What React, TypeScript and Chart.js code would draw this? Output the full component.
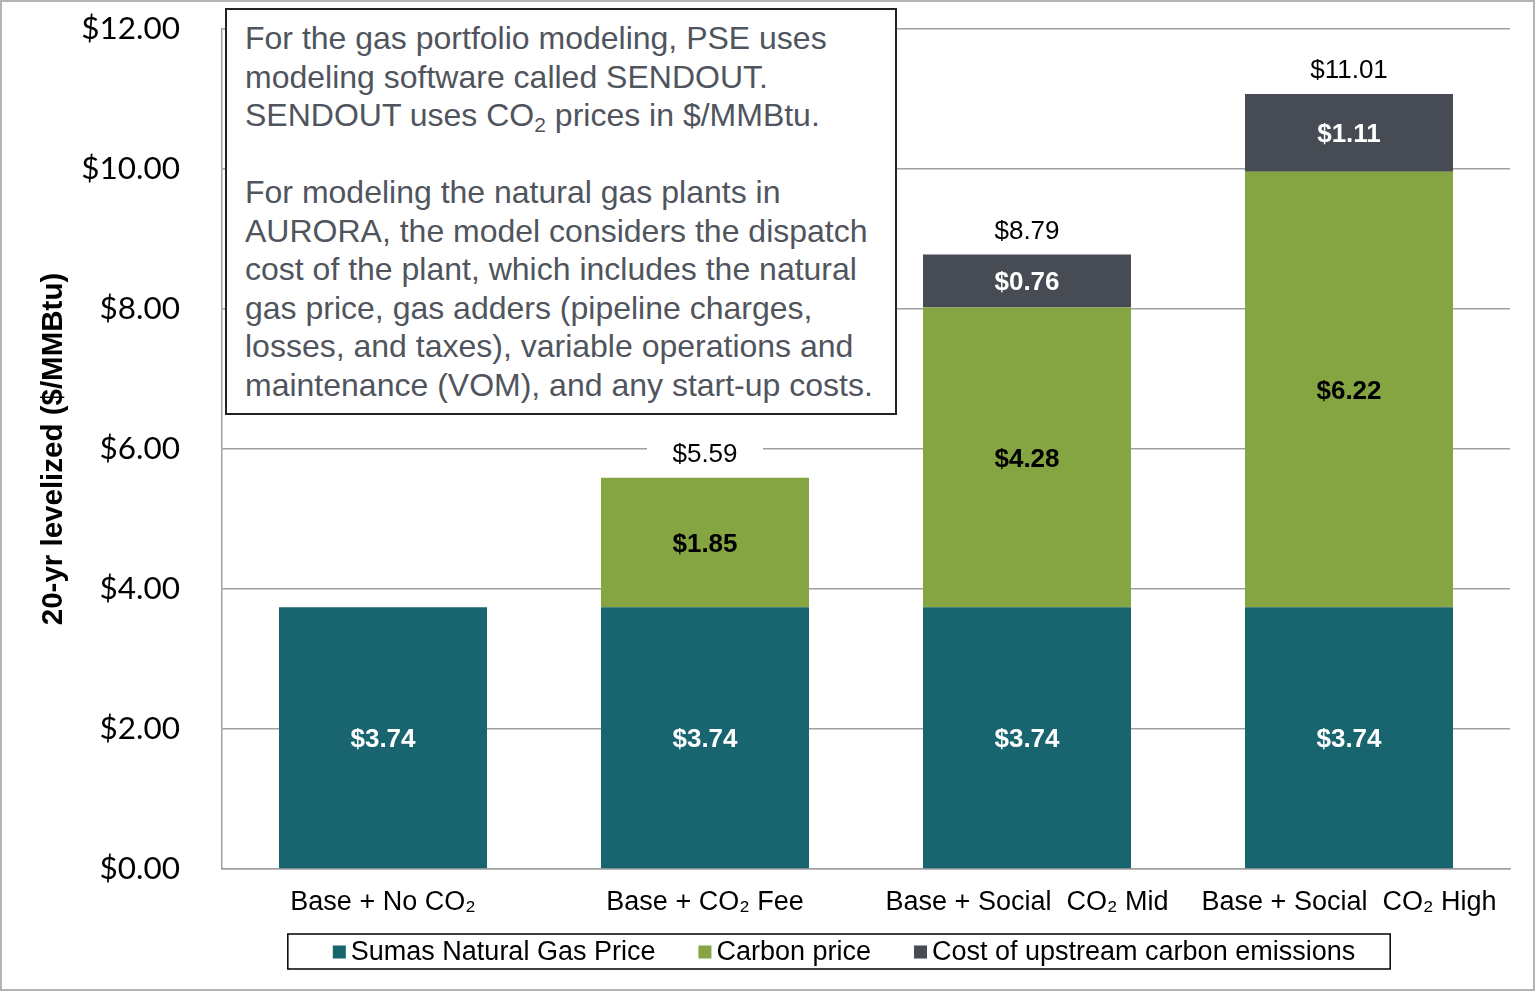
import React, { useEffect, useRef } from 'react';
import { Chart, registerables } from 'chart.js';

Chart.register(...registerables);

const categories = ['Base + No CO\u2082', 'Base + CO\u2082 Fee', 'Base + Social  CO\u2082 Mid', 'Base + Social  CO\u2082 High'];
const seriesNames = ['Sumas Natural Gas Price', 'Carbon price', 'Cost of upstream carbon emissions'];
const gasPrice = [3.74, 3.74, 3.74, 3.74];
const carbonPrice = [null, 1.85, 4.28, 6.22];
const upstreamCost = [null, null, 0.76, 1.11];
const totals = [null, 5.59, 8.79, 11.01];
const yTicks = [0, 2, 4, 6, 8, 10, 12];
const seriesColors = ['#18656F', '#84A541', '#474B54'];
const labelColors = ['#FFFFFF', '#000000', '#FFFFFF'];
const yTitle = '20-yr levelized ($/MMBtu)';

const ARIAL = '"Liberation Sans", Arial, sans-serif';

const segmentLabels = {
  id: 'segmentLabels',
  afterDatasetsDraw(chart: any) {
    const ctx = chart.ctx;
    ctx.save();
    ctx.font = `bold 26px ${ARIAL}`;
    ctx.textAlign = 'center';
    ctx.textBaseline = 'middle';
    chart.data.datasets.forEach((ds: any, di: number) => {
      const meta = chart.getDatasetMeta(di);
      meta.data.forEach((el: any, i: number) => {
        const v = ds.data[i];
        if (v == null) return;
        ctx.fillStyle = labelColors[di];
        ctx.fillText('$' + v.toFixed(2), el.x, (el.y + el.base) / 2 + 2);
      });
    });
    ctx.restore();
  },
};

const totalLabels = {
  id: 'totalLabels',
  afterDatasetsDraw(chart: any) {
    const ctx = chart.ctx;
    ctx.save();
    ctx.font = `26px ${ARIAL}`;
    ctx.textAlign = 'center';
    ctx.textBaseline = 'middle';
    totals.forEach((t, i) => {
      if (t == null) return;
      let top = Infinity;
      let x = 0;
      chart.data.datasets.forEach((ds: any, di: number) => {
        if (ds.data[i] == null) return;
        const el = chart.getDatasetMeta(di).data[i];
        if (el.y < top) top = el.y;
        x = el.x;
      });
      const y = top - 23;
      ctx.fillStyle = '#FFFFFF';
      ctx.fillRect(x - 58, y - 16, 116, 32);
      ctx.fillStyle = '#000000';
      ctx.fillText('$' + t.toFixed(2), x, y);
    });
    ctx.restore();
  },
};

const boxedLegend = {
  id: 'boxedLegend',
  afterDraw(chart: any) {
    const ctx = chart.ctx;
    ctx.save();
    ctx.font = `27px ${ARIAL}`;
    ctx.textBaseline = 'middle';
    ctx.textAlign = 'left';
    const sq = 13;
    const gapText = 5;
    const gapItem = 43;
    const widths = seriesNames.map((n) => ctx.measureText(n).width);
    const total = widths.reduce((a, w) => a + sq + gapText + w, 0) + gapItem * (seriesNames.length - 1);
    const cx = 844;
    const cy = 952;
    let x = cx - total / 2;
    const boxL = x - 45;
    const boxR = x + total + 35;
    ctx.fillStyle = '#FFFFFF';
    ctx.fillRect(boxL, 934, boxR - boxL, 35);
    ctx.strokeStyle = '#000000';
    ctx.lineWidth = 1.5;
    ctx.strokeRect(boxL, 934, boxR - boxL, 35);
    seriesNames.forEach((n, i) => {
      ctx.fillStyle = seriesColors[i];
      ctx.fillRect(x, cy - sq / 2, sq, sq);
      x += sq + gapText;
      ctx.fillStyle = '#000000';
      ctx.fillText(n, x, cy + 1);
      x += widths[i] + gapItem;
    });
    // outer frame
    ctx.strokeStyle = '#B4B4B4';
    ctx.lineWidth = 2;
    ctx.strokeRect(1, 1, chart.width - 2, chart.height - 2);
    ctx.restore();
  },
};

export default function App() {
  const canvasRef = useRef<HTMLCanvasElement>(null);

  useEffect(() => {
    const chart = new Chart(canvasRef.current as HTMLCanvasElement, {
      type: 'bar',
      data: {
        labels: categories,
        datasets: [
          { label: seriesNames[0], data: gasPrice, backgroundColor: seriesColors[0] },
          { label: seriesNames[1], data: carbonPrice, backgroundColor: seriesColors[1] },
          { label: seriesNames[2], data: upstreamCost, backgroundColor: seriesColors[2] },
        ] as any,
      },
      options: {
        animation: false,
        responsive: true,
        maintainAspectRatio: false,
        layout: { padding: { left: 0, top: 29, right: 25, bottom: 62 } },
        datasets: { bar: { categoryPercentage: 1, barPercentage: 0.646 } } as any,
        plugins: { legend: { display: false }, tooltip: { enabled: false } },
        scales: {
          x: {
            stacked: true,
            grid: { display: false, drawTicks: false },
            border: { display: true, color: '#A0A0A0', width: 1.5 },
            ticks: { color: '#000000', font: { family: ARIAL, size: 27 }, padding: 17, maxRotation: 0, autoSkip: false },
            afterFit: (s: any) => { s.height = 60; },
          },
          y: {
            stacked: true,
            min: 0,
            max: 12,
            grid: { color: '#A0A0A0', lineWidth: 1.5, drawTicks: true, tickLength: 32, tickColor: 'rgba(0,0,0,0)' },
            border: { display: true, color: '#A0A0A0', width: 1.5 },
            afterBuildTicks: (s: any) => { s.ticks = yTicks.map((v) => ({ value: v })); },
            ticks: {
              color: '#000000',
              font: { family: 'Lato, "Open Sans", sans-serif', size: 31.5 },
              padding: 10,
              callback: (v: any) => '$' + Number(v).toFixed(2),
            },
            title: {
              display: true,
              text: yTitle,
              color: '#000000',
              font: { family: ARIAL, size: 29.5, weight: 'bold' },
              padding: { top: 36, bottom: 0 },
            },
            afterFit: (s: any) => { s.width = 222; },
          },
        },
      },
      plugins: [segmentLabels, totalLabels, boxedLegend],
    });
    return () => chart.destroy();
  }, []);

  const boxStyle: React.CSSProperties = {
    position: 'absolute',
    left: 225,
    top: 8,
    width: 672,
    height: 407,
    boxSizing: 'border-box',
    border: '2px solid #222222',
    background: '#FFFFFF',
    fontFamily: ARIAL,
    fontSize: 32,
    lineHeight: '38.5px',
    color: '#50555D',
    padding: '9px 0 0 18px',
    whiteSpace: 'nowrap',
  };

  return (
    <div style={{ position: 'absolute', left: 0, top: 0, width: 1535, height: 991, background: '#FFFFFF' }}>
      <canvas ref={canvasRef} />
      <div style={boxStyle}>
        For the gas portfolio modeling, PSE uses<br />
        modeling software called SENDOUT.<br />
        SENDOUT uses CO<sub style={{ fontSize: 21, lineHeight: 0, verticalAlign: '-6px' }}>2</sub> prices in $/MMBtu.<br />
        <br />
        For modeling the natural gas plants in<br />
        AURORA, the model considers the dispatch<br />
        cost of the plant, which includes the natural<br />
        gas price, gas adders (pipeline charges,<br />
        losses, and taxes), variable operations and<br />
        maintenance (VOM), and any start-up costs.
      </div>
    </div>
  );
}
